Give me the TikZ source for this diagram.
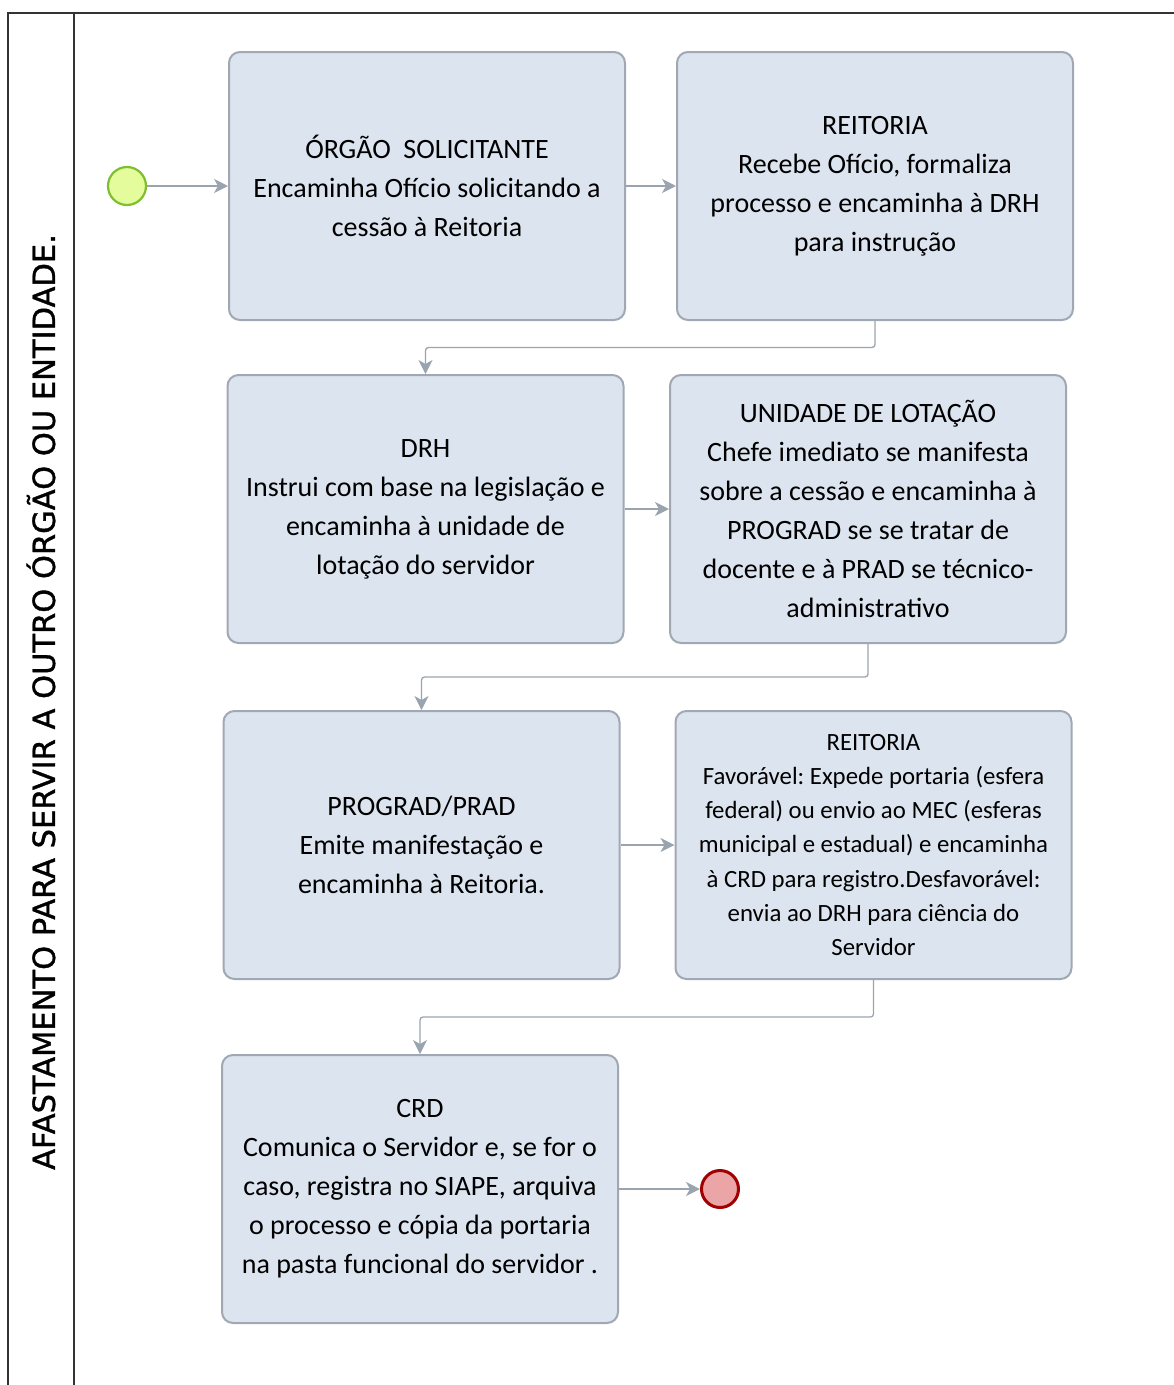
\documentclass[tikz,border=0pt]{standalone}
\usepackage{fontspec}
\setmainfont{Carlito}
\newfontfamily\boxfont{Carlito}
\newfontfamily\titlefont{DejaVu Sans}[FakeBold=1.2]
\usepackage{tikz}
\usetikzlibrary{calc,positioning,arrows.meta}
\frenchspacing

\definecolor{boxfill}{HTML}{DCE4EF}
\definecolor{boxline}{HTML}{A0A8B3}
\definecolor{flowline}{HTML}{9AA4AF}
\definecolor{startfill}{HTML}{E4FC9C}
\definecolor{startline}{HTML}{7DBF2E}
\definecolor{endfill}{HTML}{EBA5A7}
\definecolor{endline}{HTML}{A00000}

\begin{document}
\begin{tikzpicture}[x=1pt,y=-1pt,
  task/.style={draw=boxline,fill=boxfill,line width=2pt,rounded corners=11pt,minimum width=396pt,minimum height=268pt,align=center,inner sep=0pt,font=\boxfont\fontsize{28}{39}\selectfont},
  smalltask/.style={task,font=\boxfont\fontsize{24.8}{34.2}\selectfont},
  flow/.style={draw=flowline,line width=1.3pt,-{Stealth[length=14pt,width=14pt,inset=4pt]},rounded corners=3pt},
  startev/.style={circle,draw=startline,fill=startfill,line width=2.2pt,minimum size=38pt,inner sep=0pt},
  endev/.style={circle,draw=endline,fill=endfill,line width=3pt,minimum size=37pt,inner sep=0pt}]
  \useasboundingbox (0,0) rectangle (1174,1385);

  % pool and lane header
  \draw[line width=1.4pt,draw=black!80] (8,1385) -- (8,13) -- (1174,13);
  \draw[line width=1.4pt,draw=black!80] (74,13) -- (74,1385);
  \node[rotate=90,font=\titlefont\fontsize{30.5}{34}\selectfont] (title) at (41,702) {AFASTAMENTO PARA SERVIR A OUTRO ÓRGÃO OU ENTIDADE.};

  % events
  \node[startev] (start) at (127,186) {};
  \node[endev] (stop) at (720,1189) {};

  % tasks
  \node[task] (orgao) at (427,186) {ÓRGÃO~ SOLICITANTE\\Encaminha Ofício solicitando a\\cessão à Reitoria};
  \node[task] (reit1) at (875,186) {REITORIA\\Recebe Ofício, formaliza\\processo e encaminha à DRH\\para instrução};
  \node[task] (drh) at (425.5,509) {DRH\\Instrui com base na legislação e\\encaminha à unidade de\\lotação do servidor};
  \node[task] (unid) at (868,509) {UNIDADE DE LOTAÇÃO\\Chefe imediato se manifesta\\sobre a cessão e encaminha à\\PROGRAD se se tratar de\\docente e à PRAD se técnico-\\administrativo};
  \node[task] (prograd) at (421.5,845) {PROGRAD/PRAD\\Emite manifestação e\\encaminha à Reitoria.};
  \node[smalltask] (reit2) at (873.5,845) {REITORIA\\Favorável: Expede portaria (esfera\\federal) ou envio ao MEC (esferas\\municipal e estadual) e encaminha\\à CRD para registro.Desfavorável:\\envia ao DRH para ciência do\\Servidor};
  \node[task] (crd) at (420,1189) {CRD\\Comunica o Servidor e, se for o\\caso, registra no SIAPE, arquiva\\o processo e cópia da portaria\\na pasta funcional do servidor .};

  % sequence flows
  \draw[flow] (start) -- (orgao);
  \draw[flow] (orgao) -- (reit1);
  \draw[flow] (reit1.south) |- ($(reit1.south)!0.5!(drh.north)$) -| (drh.north);
  \draw[flow] (drh) -- (unid);
  \draw[flow] (unid.south) |- ($(unid.south)!0.5!(prograd.north)$) -| (prograd.north);
  \draw[flow] (prograd) -- (reit2);
  \draw[flow] (reit2.south) |- ($(reit2.south)!0.5!(crd.north)$) -| (crd.north);
  \draw[flow] (crd) -- (stop);
\end{tikzpicture}
\end{document}
